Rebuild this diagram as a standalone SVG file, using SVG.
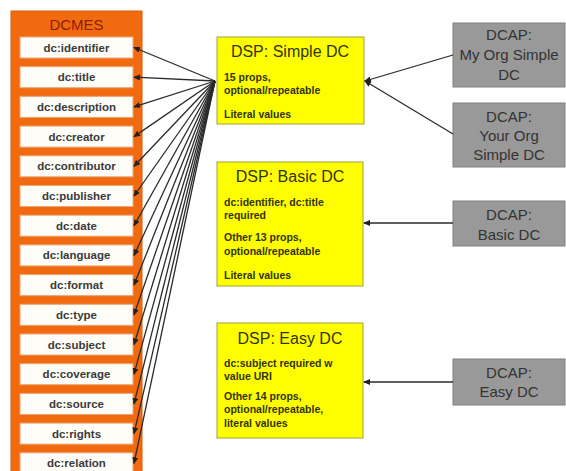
<svg xmlns="http://www.w3.org/2000/svg" width="566" height="471" viewBox="0 0 566 471">
<defs>
<marker id="ah" markerUnits="userSpaceOnUse" markerWidth="7" markerHeight="6" refX="6" refY="3" orient="auto">
<path d="M0,0 L7,3 L0,6 z" fill="#222"/>
</marker>
<style>
.el{fill:#FFFDF8;stroke:#E8A878;stroke-width:1}
.elt{font-family:"Liberation Sans",Arial,sans-serif;font-size:11.5px;font-weight:bold;fill:#3a3a3a;text-anchor:middle}
.dsp{fill:#FFFF00;stroke:#A0A040;stroke-width:1}
.dspt{font-family:"Liberation Sans",Arial,sans-serif;font-size:16px;fill:#333300;text-anchor:middle}
.dspb{font-family:"Liberation Sans",Arial,sans-serif;font-size:10.5px;font-weight:bold;fill:#333300}
.dcap{fill:#999999;stroke:#808080;stroke-width:1}
.dcapt{font-family:"Liberation Sans",Arial,sans-serif;font-size:15px;fill:#333;text-anchor:middle}
.cn{stroke:#2a2a2a;stroke-width:1.3;fill:none;marker-end:url(#ah)}
</style>
</defs>
<rect width="566" height="471" fill="#fff"/>
<g id="dcmes">
<rect x="11" y="11" width="131" height="470" fill="#F26A10" stroke="#D85A0A"/>
<text x="76.5" y="30" font-family="Liberation Sans,Arial,sans-serif" font-size="15" fill="#8B2000" text-anchor="middle">DCMES</text>
</g>
<g id="el-identifier"><rect class="el" x="20" y="37" width="113" height="21"/><text class="elt" x="76.5" y="51.5">dc:identifier</text></g>
<g id="el-title"><rect class="el" x="20" y="66.7" width="113" height="21"/><text class="elt" x="76.5" y="81.2">dc:title</text></g>
<g id="el-description"><rect class="el" x="20" y="96.4" width="113" height="21"/><text class="elt" x="76.5" y="110.9">dc:description</text></g>
<g id="el-creator"><rect class="el" x="20" y="126.1" width="113" height="21"/><text class="elt" x="76.5" y="140.6">dc:creator</text></g>
<g id="el-contributor"><rect class="el" x="20" y="155.8" width="113" height="21"/><text class="elt" x="76.5" y="170.3">dc:contributor</text></g>
<g id="el-publisher"><rect class="el" x="20" y="185.5" width="113" height="21"/><text class="elt" x="76.5" y="200">dc:publisher</text></g>
<g id="el-date"><rect class="el" x="20" y="215.2" width="113" height="21"/><text class="elt" x="76.5" y="229.7">dc:date</text></g>
<g id="el-language"><rect class="el" x="20" y="244.9" width="113" height="21"/><text class="elt" x="76.5" y="259.4">dc:language</text></g>
<g id="el-format"><rect class="el" x="20" y="274.6" width="113" height="21"/><text class="elt" x="76.5" y="289.1">dc:format</text></g>
<g id="el-type"><rect class="el" x="20" y="304.3" width="113" height="21"/><text class="elt" x="76.5" y="318.8">dc:type</text></g>
<g id="el-subject"><rect class="el" x="20" y="334" width="113" height="21"/><text class="elt" x="76.5" y="348.5">dc:subject</text></g>
<g id="el-coverage"><rect class="el" x="20" y="363.7" width="113" height="21"/><text class="elt" x="76.5" y="378.2">dc:coverage</text></g>
<g id="el-source"><rect class="el" x="20" y="393.4" width="113" height="21"/><text class="elt" x="76.5" y="407.9">dc:source</text></g>
<g id="el-rights"><rect class="el" x="20" y="423.1" width="113" height="21"/><text class="elt" x="76.5" y="437.6">dc:rights</text></g>
<g id="el-relation"><rect class="el" x="20" y="452.8" width="113" height="21"/><text class="elt" x="76.5" y="467.3">dc:relation</text></g>

<g id="dsp-simple">
<rect class="dsp" x="217" y="37" width="147" height="87"/>
<text class="dspt" x="290" y="57">DSP: Simple DC</text>
<text class="dspb" x="224" y="81">15 props,</text>
<text class="dspb" x="224" y="94">optional/repeatable</text>
<text class="dspb" x="224" y="118">Literal values</text>
</g>
<g id="dsp-basic">
<rect class="dsp" x="217" y="162" width="146" height="124"/>
<text class="dspt" x="290" y="182">DSP: Basic DC</text>
<text class="dspb" x="224" y="206">dc:identifier, dc:title</text>
<text class="dspb" x="224" y="219">required</text>
<text class="dspb" x="224" y="241">Other 13 props,</text>
<text class="dspb" x="224" y="255">optional/repeatable</text>
<text class="dspb" x="224" y="279">Literal values</text>
</g>
<g id="dsp-easy">
<rect class="dsp" x="217" y="323" width="146" height="115"/>
<text class="dspt" x="290" y="344">DSP: Easy DC</text>
<text class="dspb" x="224" y="367">dc:subject required w</text>
<text class="dspb" x="224" y="380">value URI</text>
<text class="dspb" x="224" y="400">Other 14 props,</text>
<text class="dspb" x="224" y="413">optional/repeatable,</text>
<text class="dspb" x="224" y="427">literal values</text>
</g>

<g id="dcap-myorg">
<rect class="dcap" x="453" y="23" width="112" height="64"/>
<text class="dcapt" x="509" y="40">DCAP:</text>
<text class="dcapt" x="509" y="60">My Org Simple</text>
<text class="dcapt" x="509" y="80">DC</text>
</g>
<g id="dcap-yourorg">
<rect class="dcap" x="453" y="103" width="112" height="64"/>
<text class="dcapt" x="509" y="122">DCAP:</text>
<text class="dcapt" x="509" y="141">Your Org</text>
<text class="dcapt" x="509" y="160">Simple DC</text>
</g>
<g id="dcap-basic">
<rect class="dcap" x="453" y="201" width="112" height="45"/>
<text class="dcapt" x="509" y="220">DCAP:</text>
<text class="dcapt" x="509" y="240">Basic DC</text>
</g>
<g id="dcap-easy">
<rect class="dcap" x="453" y="359" width="112" height="46"/>
<text class="dcapt" x="509" y="378">DCAP:</text>
<text class="dcapt" x="509" y="397">Easy DC</text>
</g>

<g id="connectors">
<line class="cn" x1="215" y1="81" x2="134" y2="47.5"/>
<line class="cn" x1="215" y1="81" x2="134" y2="77.2"/>
<line class="cn" x1="215" y1="81" x2="134" y2="106.9"/>
<line class="cn" x1="215" y1="81" x2="134" y2="136.6"/>
<line class="cn" x1="215" y1="81" x2="134" y2="166.3"/>
<line class="cn" x1="215" y1="81" x2="134" y2="196"/>
<line class="cn" x1="215" y1="81" x2="134" y2="225.7"/>
<line class="cn" x1="215" y1="81" x2="134" y2="255.4"/>
<line class="cn" x1="215" y1="81" x2="134" y2="285.1"/>
<line class="cn" x1="215" y1="81" x2="134" y2="314.8"/>
<line class="cn" x1="215" y1="81" x2="134" y2="344.5"/>
<line class="cn" x1="215" y1="81" x2="134" y2="374.2"/>
<line class="cn" x1="215" y1="81" x2="134" y2="403.9"/>
<line class="cn" x1="215" y1="81" x2="134" y2="433.6"/>
<line class="cn" x1="215" y1="81" x2="134" y2="463.3"/>
<line class="cn" x1="453" y1="55" x2="365" y2="81"/>
<line class="cn" x1="453" y1="134" x2="365" y2="81"/>
<line class="cn" x1="453" y1="223" x2="364" y2="223"/>
<line class="cn" x1="453" y1="382" x2="364" y2="382"/>
</g>
</svg>
